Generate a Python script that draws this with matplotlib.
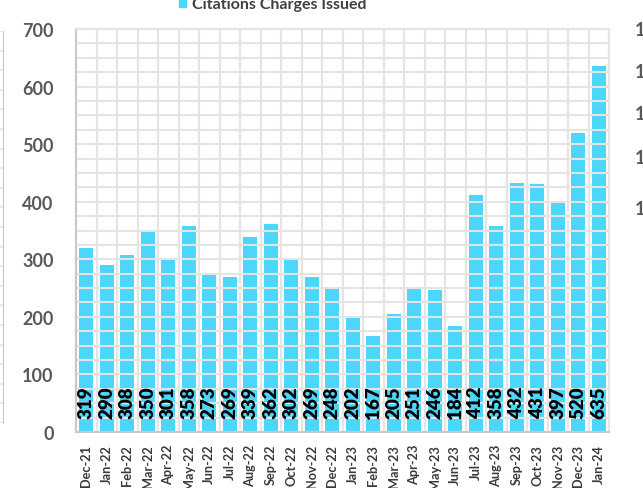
import matplotlib.pyplot as plt
from matplotlib.ticker import MultipleLocator, FixedLocator
from matplotlib.patches import Rectangle

plt.rcParams['font.family'] = ['Lato', 'DejaVu Sans']

months = ["Dec-21", "Jan-22", "Feb-22", "Mar-22", "Apr-22", "May-22", "Jun-22",
          "Jul-22", "Aug-22", "Sep-22", "Oct-22", "Nov-22", "Dec-22", "Jan-23",
          "Feb-23", "Mar-23", "Apr-23", "May-23", "Jun-23", "Jul-23", "Aug-23",
          "Sep-23", "Oct-23", "Nov-23", "Dec-23", "Jan-24"]
citations = [319, 290, 308, 350, 301, 358, 273, 269, 339, 362, 302, 269, 248,
             202, 167, 205, 251, 246, 184, 412, 358, 432, 431, 397, 520, 635]
series_name = "Citations Charges Issued"

W, H = 643, 489
fig = plt.figure(figsize=(W / 100, H / 100), dpi=100)
bar_color = '#4DD6FC'
grid_color = '#E4E4E4'

# main plot area (pixel box 76..609 x 30..433)
ax = fig.add_axes([76 / W, 1 - 433 / H, (609 - 76) / W, (433 - 30) / H])
x = list(range(len(months)))
ax.bar(x, citations, width=0.66, color=bar_color, zorder=1)
for xi, v in zip(x, citations):
    ax.annotate(str(v), (xi, 0), xytext=(0, 10), textcoords='offset points',
                rotation=90, ha='center', va='bottom', fontsize=13.5,
                fontweight='heavy', color='black', zorder=3)

ax.set_xlim(-0.5, len(months) - 0.5)
ax.set_ylim(0, 700)
ax.set_xticks(x)
ax.set_xticklabels(months, rotation=90, fontsize=9.2, fontweight='bold', color='#3A3A3A')
ax.xaxis.set_minor_locator(FixedLocator([i - 0.5 for i in range(len(months) + 1)]))
ax.yaxis.set_major_locator(MultipleLocator(100))
ax.yaxis.set_minor_locator(MultipleLocator(25))
for lab in ax.get_yticklabels():
    lab.set_fontweight('bold')
ax.tick_params(axis='y', labelsize=13, labelcolor='#595959', length=0, pad=16)
ax.tick_params(axis='x', length=0, pad=8.5)
ax.tick_params(which='minor', length=0)
ax.grid(which='minor', color=grid_color, linewidth=1.5)
ax.grid(which='major', axis='y', color=grid_color, linewidth=1.5)
for s in ['top', 'right']:
    ax.spines[s].set_color(grid_color)
    ax.spines[s].set_linewidth(1.5)
for s in ['left', 'bottom']:
    ax.spines[s].set_color('#C8C8C8')
    ax.spines[s].set_linewidth(1.5)

# legend, cut off by the top edge
fig.patches.append(Rectangle((179 / W, 1 - 8 / H), 7 / W, 10 / H,
                             transform=fig.transFigure, color=bar_color))
fig.text(192 / W, 1 - 9 / H, series_name, fontsize=11.5, fontweight='bold',
         color='#404040', ha='left', va='baseline')

# neighbouring chart fragment on the left
axl = fig.add_axes([0, 1 - 424 / H, 3 / W, (424 - 32) / H])
axl.set_xlim(0, 1)
axl.set_ylim(0, 20)
axl.set_xticks([])
axl.set_yticks([])
axl.yaxis.set_minor_locator(MultipleLocator(1))
axl.grid(which='minor', color=grid_color, linewidth=1.2)
axl.tick_params(which='minor', length=0)
for s in ['top', 'left', 'bottom']:
    axl.spines[s].set_visible(False)
axl.spines['right'].set_color('#C8C8C8')

# neighbouring chart fragment on the right (cut tick labels)
for yy in [31, 72, 115, 159, 210]:
    fig.text(635 / W, 1 - yy / H, "1", fontsize=13, fontweight='bold',
             color='#595959', ha='left', va='center')

fig.savefig('out.png', dpi=100)
